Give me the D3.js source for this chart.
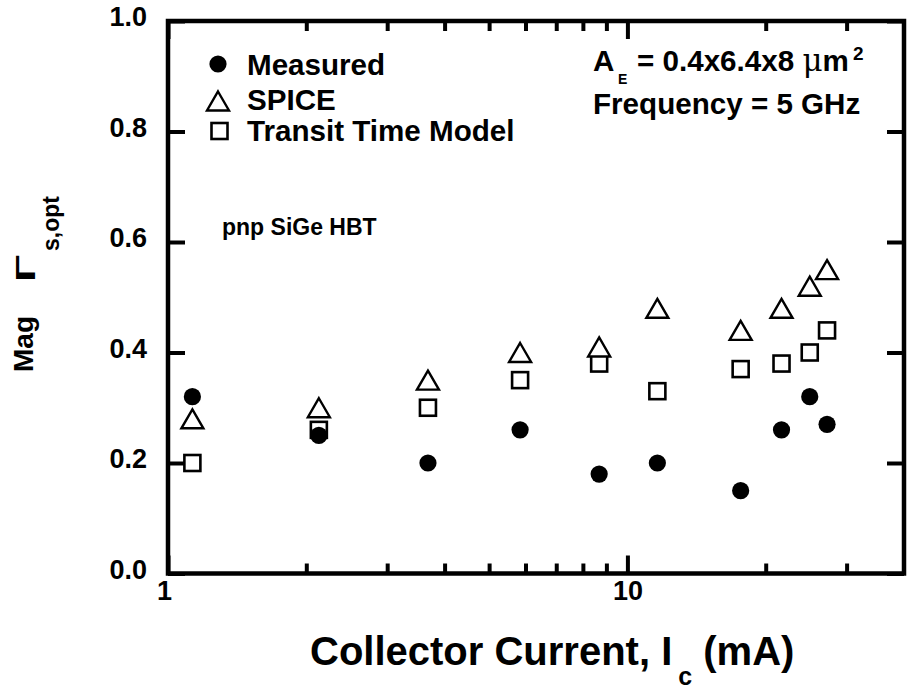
<!DOCTYPE html>
<html>
<head>
<meta charset="utf-8">
<script src="https://cdn.jsdelivr.net/npm/d3@7"></script>
<style>
  html, body { margin: 0; padding: 0; background: #fff; }
  svg { display: block; }
  text { font-family: "Liberation Sans", Arial, sans-serif; font-weight: bold; fill: #000; }
</style>
</head>
<body>
<svg id="chart" width="910" height="691"></svg>
<script>
// ---- data ----
const current   = [1.13, 2.13, 3.68, 5.84, 8.68, 11.62, 17.64, 21.65, 24.94, 27.2];
const measured  = [0.32, 0.25, 0.20, 0.26, 0.18, 0.20, 0.15, 0.26, 0.32, 0.27];
const spice     = [0.28, 0.30, 0.35, 0.40, 0.41, 0.48, 0.44, 0.48, 0.52, 0.55];
const transit   = [0.20, 0.26, 0.30, 0.35, 0.38, 0.33, 0.37, 0.38, 0.40, 0.44];
const xMajorTicks = [1, 10];
const xMinorTicks = [2, 3, 4, 5, 6, 7, 8, 9, 20, 30];
const yTicks = [0, 0.2, 0.4, 0.6, 0.8, 1.0];
const legendLabels = ["Measured", "SPICE", "Transit Time Model"];

const svg = d3.select("#chart");
const pL = 168, pR = 904, pT = 21, pB = 573.5;

const x = d3.scaleLog().domain([1, 40]).range([pL, pR]);
const y = d3.scaleLinear().domain([0, 1]).range([pB, pT]);

const AX = 4.5;
const FS = 29.6;

function styleAxis(g) {
  g.select(".domain").remove();
  g.selectAll(".tick line").attr("stroke", "#000").attr("stroke-width", 4);
  g.selectAll(".tick text").attr("font-size", 27).attr("font-family", '"Liberation Sans", Arial, sans-serif').attr("font-weight", "bold").attr("fill", "#000");
}

// bottom axis major with labels
const xb = svg.append("g").attr("transform", `translate(0,${pB})`)
  .call(d3.axisBottom(x).tickValues(xMajorTicks).tickFormat(d3.format("d")).tickSizeInner(-18).tickSizeOuter(0).tickPadding(7))
  .call(styleAxis);
xb.selectAll(".tick text").attr("dx", d => d === 1 ? -4 : 0);
svg.append("g").attr("transform", `translate(0,${pB})`)
  .call(d3.axisBottom(x).tickValues(xMinorTicks).tickFormat("").tickSizeInner(-10).tickSizeOuter(0))
  .call(styleAxis);
// top axis
svg.append("g").attr("transform", `translate(0,${pT})`)
  .call(d3.axisTop(x).tickValues(xMajorTicks).tickFormat("").tickSizeInner(-18).tickSizeOuter(0))
  .call(styleAxis);
svg.append("g").attr("transform", `translate(0,${pT})`)
  .call(d3.axisTop(x).tickValues(xMinorTicks).tickFormat("").tickSizeInner(-10).tickSizeOuter(0))
  .call(styleAxis);
// left axis
const yl = svg.append("g").attr("transform", `translate(${pL},0)`)
  .call(d3.axisLeft(y).tickValues(yTicks).tickFormat(d3.format(".1f")).tickSizeInner(-17).tickSizeOuter(0).tickPadding(21))
  .call(styleAxis);
yl.selectAll(".tick text").attr("dy", "0.18em");
// right axis
svg.append("g").attr("transform", `translate(${pR},0)`)
  .call(d3.axisRight(y).tickValues(yTicks).tickFormat("").tickSizeInner(-17).tickSizeOuter(0))
  .call(styleAxis);

// frame
svg.append("rect")
  .attr("x", pL).attr("y", pT)
  .attr("width", pR - pL).attr("height", pB - pT)
  .attr("fill", "none").attr("stroke", "#000").attr("stroke-width", AX);

// markers
const triPath = "M0,-9.5L11,9.5L-11,9.5Z";
const sqSize = 16;

function drawSquare(g, cx, cy) {
  g.append("rect").attr("x", cx - sqSize / 2).attr("y", cy - sqSize / 2)
    .attr("width", sqSize).attr("height", sqSize)
    .attr("fill", "#fff").attr("stroke", "#000").attr("stroke-width", 2.6);
}
function drawTri(g, cx, cy) {
  g.append("path").attr("d", triPath).attr("transform", `translate(${cx},${cy})`)
    .attr("fill", "#fff").attr("stroke", "#000").attr("stroke-width", 2.4).attr("stroke-linejoin", "miter");
}
function drawCircle(g, cx, cy) {
  g.append("circle").attr("cx", cx).attr("cy", cy).attr("r", 8.6).attr("fill", "#000");
}

const gSq = svg.append("g");
current.forEach((c, i) => drawSquare(gSq, x(c), y(transit[i])));
const gTri = svg.append("g");
current.forEach((c, i) => drawTri(gTri, x(c), y(spice[i])));
const gCir = svg.append("g");
current.forEach((c, i) => drawCircle(gCir, x(c), y(measured[i])));

// legend
const lg = svg.append("g");
drawCircle(lg, 218, 64);
drawTri(lg, 218, 101);
drawSquare(lg, 219.5, 131);
lg.append("text").attr("x", 247).attr("y", 75).attr("font-size", FS).text(legendLabels[0]);
lg.append("text").attr("x", 247).attr("y", 110).attr("font-size", FS).text(legendLabels[1]);
lg.append("text").attr("x", 247).attr("y", 141).attr("font-size", FS).text(legendLabels[2]);

// annotations
svg.append("text").attr("x", 593).attr("y", 71).attr("font-size", FS).text("A");
svg.append("text").attr("x", 618).attr("y", 83.5).attr("font-size", 14).text("E");
const a1 = svg.append("text").attr("x", 637).attr("y", 71).attr("font-size", FS);
a1.append("tspan").text("= 0.4x6.4x8 ");
a1.append("tspan").attr("font-family", '"DejaVu Serif", "Liberation Serif", serif').attr("font-weight", "normal").attr("font-size", 31).text("\u03BC");
a1.append("tspan").text("m");
const a1End = 637 + a1.node().getComputedTextLength();
svg.append("text").attr("x", a1End + 4).attr("y", 60).attr("font-size", 19).text("2");

svg.append("text").attr("x", 593).attr("y", 113.5).attr("font-size", FS).text("Frequency = 5 GHz");
svg.append("text").attr("x", 222).attr("y", 235).attr("font-size", 23).text("pnp SiGe HBT");

// x title
const xt = svg.append("text").attr("x", 310).attr("y", 665).attr("font-size", 40);
xt.append("tspan").text("Collector Current, I");
xt.append("tspan").attr("dx", 6).attr("dy", 20).attr("font-size", 25).text("c");
xt.append("tspan").attr("dy", -20).text(" (mA)");

// y title
svg.append("text").attr("transform", "translate(33,372) rotate(-90)").attr("font-size", 28).text("Mag");
svg.append("text").attr("transform", "translate(35,282) rotate(-90) scale(1.6,1)")
  .attr("font-family", '"Liberation Serif", "DejaVu Serif", serif').attr("font-weight", "normal")
  .attr("font-size", 28).text("\u0393");
svg.append("text").attr("transform", "translate(59,251) rotate(-90)").attr("font-size", 23).text("s,opt");
</script>
</body>
</html>
